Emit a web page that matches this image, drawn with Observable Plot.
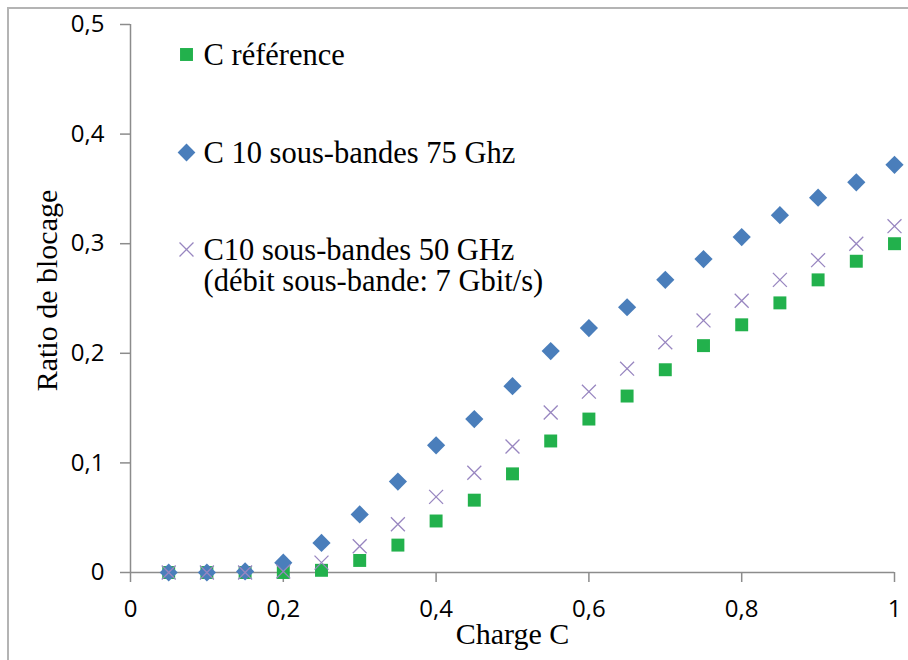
<!DOCTYPE html>
<html>
<head>
<meta charset="utf-8">
<script src="https://cdn.jsdelivr.net/npm/d3@7"></script>
<script src="https://cdn.jsdelivr.net/npm/@observablehq/plot@0.6"></script>
<style>
  html, body { margin: 0; padding: 0; background: #fff; }
  #wrap { position: relative; width: 908px; height: 660px; overflow: hidden; }
  #frame { position: absolute; left: 7px; top: 7px; width: 920px; height: 680px;
           border-top: 2px solid #b4b4b4; border-left: 2px solid #b4b4b4; pointer-events: none; }
  #chart { position: absolute; left: 0; top: 0; }
</style>
</head>
<body>
<div id="wrap"><div id="chart"></div><div id="frame"></div></div>
<script>
// ---- data ----
const charge = [0.05, 0.10, 0.15, 0.20, 0.25, 0.30, 0.35, 0.40, 0.45, 0.50,
                0.55, 0.60, 0.65, 0.70, 0.75, 0.80, 0.85, 0.90, 0.95, 1.00];
const cReference = [0, 0, 0, 0, 0.002, 0.011, 0.025, 0.047, 0.066, 0.090,
                    0.120, 0.140, 0.161, 0.185, 0.207, 0.226, 0.246, 0.267, 0.284, 0.300];
const c10sb75 = [0, 0, 0.001, 0.009, 0.027, 0.053, 0.083, 0.116, 0.140, 0.170,
                 0.202, 0.223, 0.242, 0.267, 0.286, 0.306, 0.326, 0.342, 0.356, 0.372];
const c10sb50 = [0, 0, 0, 0.001, 0.009, 0.024, 0.044, 0.069, 0.091, 0.115,
                 0.146, 0.165, 0.186, 0.210, 0.230, 0.248, 0.267, 0.285, 0.300, 0.316];
const seriesNames = ["C référence", "C 10 sous-bandes 75 Ghz", "C10 sous-bandes 50 GHz", "(débit sous-bande: 7 Gbit/s)"];
const xTicks = [0, 0.2, 0.4, 0.6, 0.8, 1];
const yTicks = [0, 0.1, 0.2, 0.3, 0.4, 0.5];
const xTitle = "Charge C";
const yTitle = "Ratio de blocage";

// ---- styling ----
const GREEN = "#22b14c", BLUE = "#4a7ebb", PURPLE = "#9886c0", AXIS = "#8c8c8c";
const SERIF = "Liberation Serif, Times New Roman, serif";
const fmt = d => String(d).replace(".", ",");

const rows = (vals) => charge.map((c, i) => ({x: c, y: vals[i]}));

const legend = [
  {symbol: "square", fill: GREEN, stroke: "none", r: 7.3, dy: 30, text: [seriesNames[0]]},
  {symbol: "diamond2", fill: BLUE, stroke: "none", r: 8.0, dy: 128, text: [seriesNames[1]]},
  {symbol: "times", fill: "none", stroke: PURPLE, r: 6.4, dy: 225, text: [seriesNames[2], seriesNames[3]]}
];

const legendMarks = [];
for (const l of legend) {
  legendMarks.push(Plot.dot([0], {frameAnchor: "top-left", dx: 56, dy: l.dy, symbol: l.symbol,
    r: l.r, fill: l.fill, stroke: l.stroke, strokeWidth: 1.3}));
  l.text.forEach((t, j) => {
    legendMarks.push(Plot.text([t], {text: d => d, frameAnchor: "top-left", dx: 73, dy: l.dy + 1 + j * 31,
      textAnchor: "start", lineAnchor: "middle", fontFamily: SERIF, fontSize: 30.5, fill: "#000"}));
  });
}

const chart = Plot.plot({
  width: 908,
  height: 660,
  marginLeft: 130,
  marginRight: 14,
  marginTop: 24,
  marginBottom: 88,
  style: {fontFamily: "Open Sans, sans-serif", fontSize: "24px", color: "#000", background: "#fff"},
  x: {domain: [0, 1]},
  y: {domain: [0, 0.5]},
  marks: [
    Plot.ruleY([0], {stroke: AXIS, strokeWidth: 1.5}),
    Plot.ruleX([0], {stroke: AXIS, strokeWidth: 1.5}),
    Plot.axisX({ticks: xTicks, tickSize: 10, tickPadding: 17, tickFormat: fmt, label: null,
                stroke: AXIS, strokeWidth: 1.5, fill: "#000", fontSize: 24}),
    Plot.axisY({ticks: yTicks, tickSize: 10, tickPadding: 16, tickFormat: fmt, label: null,
                stroke: AXIS, strokeWidth: 1.5, fill: "#000", fontSize: 24}),
    Plot.dot(rows(cReference), {x: "x", y: "y", symbol: "square", r: 7.3, fill: GREEN}),
    Plot.dot(rows(c10sb75), {x: "x", y: "y", symbol: "diamond2", r: 8.2, fill: BLUE, stroke: "none"}),
    Plot.dot(rows(c10sb50), {x: "x", y: "y", symbol: "times", r: 6.4, stroke: PURPLE, strokeWidth: 1.3}),
    Plot.text([xTitle], {text: d => d, frameAnchor: "bottom", dy: 71, textAnchor: "middle", fontFamily: SERIF, fontSize: 30, fill: "#000"}),
    Plot.text([yTitle], {text: d => d, frameAnchor: "left", dx: -83, dy: -8, rotate: -90, textAnchor: "middle", fontFamily: SERIF, fontSize: 30, fill: "#000"}),
    ...legendMarks
  ]
});
document.getElementById("chart").appendChild(chart);
</script>
</body>
</html>
